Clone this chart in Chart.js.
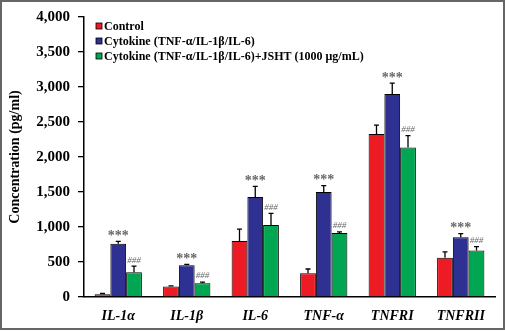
<!DOCTYPE html>
<html>
<head>
<meta charset="utf-8">
<script src="https://cdn.jsdelivr.net/npm/chart.js@4/dist/chart.umd.min.js"></script>
<style>
  html, body { margin: 0; padding: 0; background: #fff; }
  canvas { display: block; }
</style>
</head>
<body>
<canvas id="chart" width="505" height="331"></canvas>
<script>
const categories = ["IL-1α", "IL-1β", "IL-6", "TNF-α", "TNFRI", "TNFRII"];
const seriesNames = [
  "Control",
  "Cytokine (TNF-α/IL-1β/IL-6)",
  "Cytokine (TNF-α/IL-1β/IL-6)+JSHT (1000 μg/mL)",
];
const control = [40, 150, 800, 340, 2330, 560];
const controlErr = [10, 10, 170, 60, 125, 85];
const cytokine = [760, 455, 1430, 1500, 2900, 855];
const cytokineErr = [35, 10, 150, 90, 155, 50];
const jsht = [355, 195, 1030, 915, 2135, 665];
const jshtErr = [85, 18, 165, 15, 170, 55];
const yTicks = [0, 500, 1000, 1500, 2000, 2500, 3000, 3500, 4000];

const COLORS = ["#ed1c24", "#2e3192", "#00a651"];
const SERIF = "'Liberation Serif', 'Times New Roman', serif";

// error bars (upper cap only) plus significance marks
const errorBars = {
  id: "errorBars",
  afterDatasetsDraw(chart) {
    const { ctx } = chart;
    const y = chart.scales.y;
    chart.data.datasets.forEach((ds, i) => {
      const meta = chart.getDatasetMeta(i);
      meta.data.forEach((bar, j) => {
        const top = y.getPixelForValue(ds.data[j] + ds.errors[j]);
        ctx.save();
        ctx.strokeStyle = "#000";
        ctx.lineWidth = 1.3;
        ctx.beginPath();
        ctx.moveTo(bar.x, bar.y);
        ctx.lineTo(bar.x, top);
        ctx.moveTo(bar.x - 2.5, top);
        ctx.lineTo(bar.x + 2.5, top);
        ctx.stroke();
        if (ds.mark) {
          ctx.fillStyle = "#666";
          ctx.textAlign = "center";
          ctx.textBaseline = "middle";
          ctx.font = ds.markFont;
          ctx.fillText(ds.mark, bar.x, top - ds.markOffset);
        }
        ctx.restore();
      });
    });
  },
};

// legend inside the plot, top left
const innerLegend = {
  id: "innerLegend",
  afterDraw(chart) {
    const { ctx, chartArea } = chart;
    ctx.save();
    ctx.font = "bold 12px " + SERIF;
    ctx.textBaseline = "middle";
    ctx.textAlign = "left";
    chart.data.datasets.forEach((ds, i) => {
      const x = chartArea.left + 12;
      const cy = chartArea.top + 9 + i * 15;
      ctx.fillStyle = ds.backgroundColor;
      ctx.fillRect(x, cy - 3, 6, 6);
      ctx.strokeStyle = "#000";
      ctx.lineWidth = 0.8;
      ctx.strokeRect(x, cy - 3, 6, 6);
      ctx.fillStyle = "#000";
      ctx.fillText(ds.label, x + 8, cy + 1);
    });
    ctx.restore();
  },
};

// white page with grey frame
const frame = {
  id: "frame",
  beforeDraw(chart) {
    const { ctx } = chart;
    ctx.save();
    ctx.fillStyle = "#fff";
    ctx.fillRect(0, 0, chart.width, chart.height);
    ctx.restore();
  },
  afterDraw(chart) {
    const { ctx } = chart;
    ctx.save();
    ctx.strokeStyle = "#666";
    ctx.lineWidth = 2;
    ctx.strokeRect(1, 1, chart.width - 2, chart.height - 3);
    ctx.restore();
  },
};

new Chart(document.getElementById("chart"), {
  type: "bar",
  data: {
    labels: categories,
    datasets: [
      { label: seriesNames[0], data: control, errors: controlErr },
      {
        label: seriesNames[1], data: cytokine, errors: cytokineErr,
        mark: "***", markFont: "bold 14px " + SERIF, markOffset: 5,
      },
      {
        label: seriesNames[2], data: jsht, errors: jshtErr,
        mark: "###", markFont: "italic 9px " + SERIF, markOffset: 6,
      },
    ].map((ds, i) => ({
      ...ds,
      backgroundColor: COLORS[i],
      borderColor: "#000",
      borderWidth: 1,
      barPercentage: 1,
      categoryPercentage: 0.69,
    })),
  },
  options: {
    responsive: false,
    animation: false,
    devicePixelRatio: 1,
    layout: { padding: { top: 14, right: 10, left: 0, bottom: 0 } },
    plugins: {
      legend: { display: false },
      tooltip: { enabled: false },
    },
    scales: {
      x: {
        grid: { display: false },
        border: { color: "#000", width: 1.5 },
        ticks: {
          color: "#000",
          padding: 3,
          font: { family: SERIF, size: 14, weight: "bold", style: "italic" },
        },
        afterFit: (scale) => { scale.height = 34; },
      },
      y: {
        min: 0,
        max: 4000,
        afterBuildTicks: (scale) => { scale.ticks = yTicks.map((v) => ({ value: v })); },
        grid: { drawOnChartArea: false, drawTicks: true, tickLength: 6, color: "#000", lineWidth: 1.3 },
        border: { color: "#000", width: 1.5 },
        ticks: {
          color: "#000",
          padding: 8,
          font: { family: SERIF, size: 15, weight: "bold" },
          callback: (v) => v.toLocaleString("en-US"),
        },
        title: {
          display: true,
          text: "Concentration (pg/ml)",
          color: "#000",
          padding: { top: 7, bottom: 0 },
          font: { family: SERIF, size: 14, weight: "bold" },
        },
        afterFit: (scale) => { scale.width = 84; },
      },
    },
  },
  plugins: [frame, errorBars, innerLegend],
});
</script>
</body>
</html>
